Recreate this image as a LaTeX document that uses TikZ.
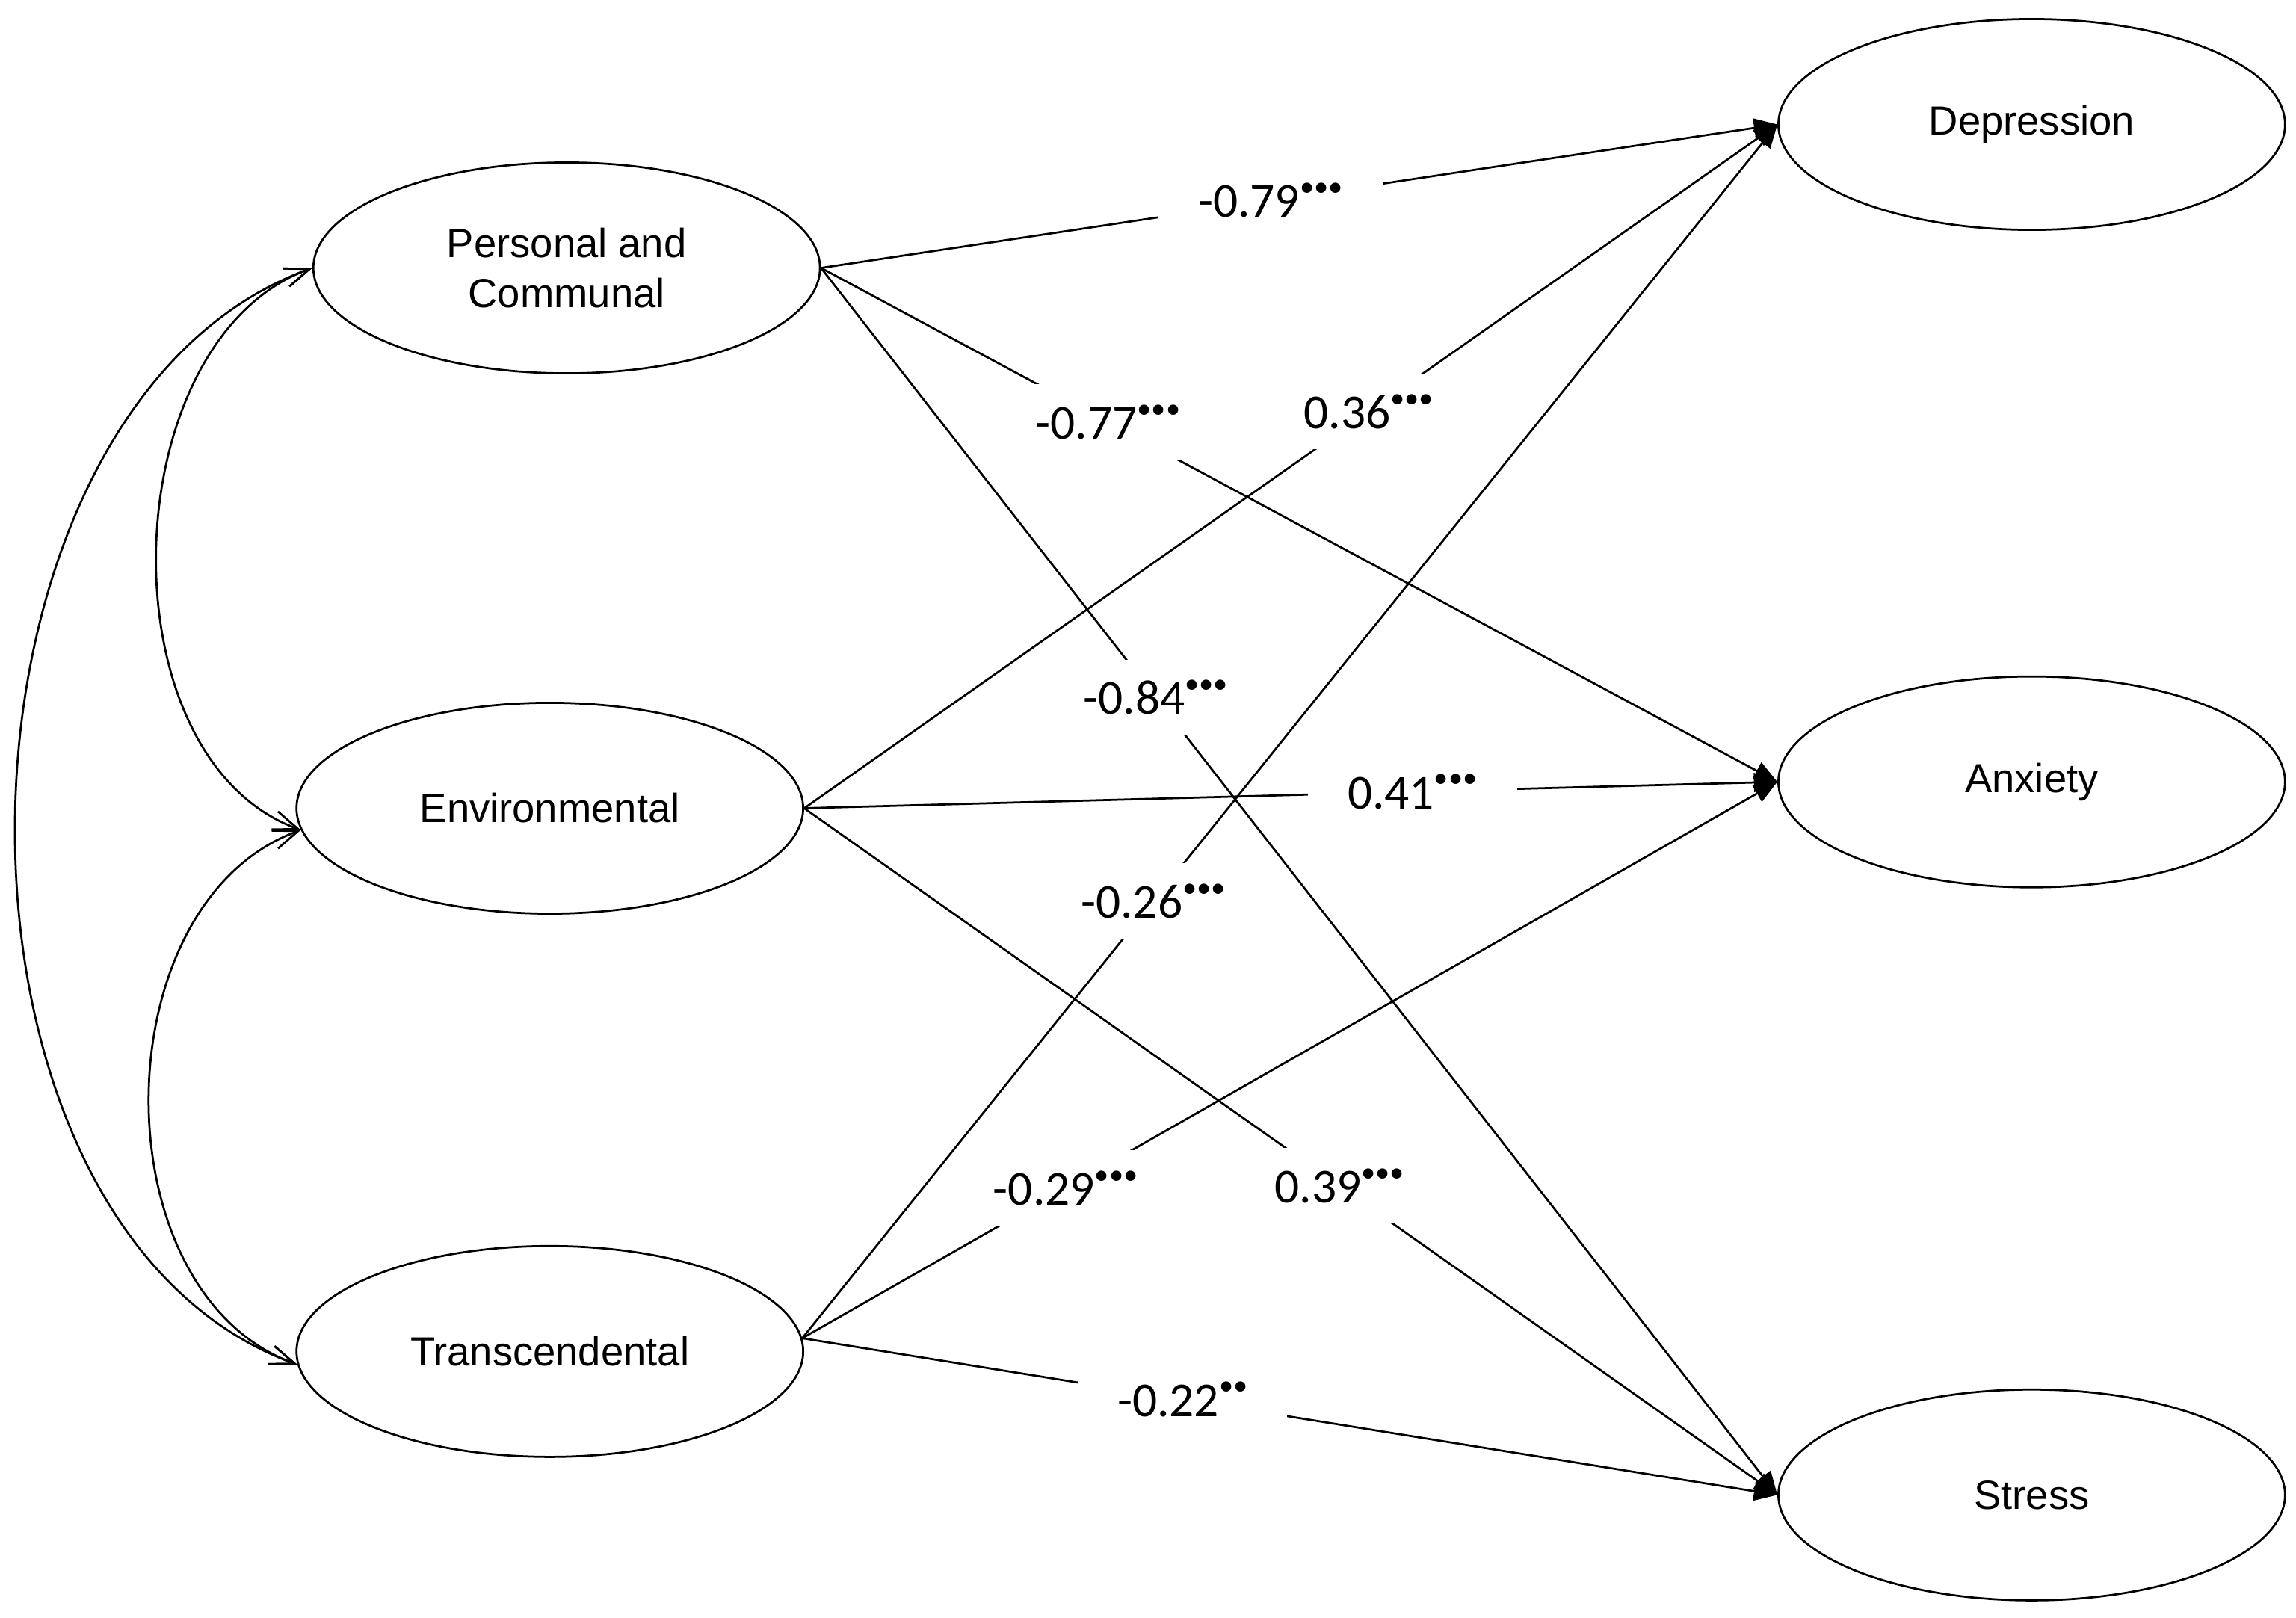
\documentclass[tikz,border=0pt]{standalone}
\usepackage{fontspec}
\setmainfont{Liberation Sans}
\newfontfamily\coeffont{Carlito}
\usepackage{tikz}
\usetikzlibrary{arrows.meta,shapes.geometric}
\newcommand{\stars}{\raisebox{0.9ex}{\fontsize{5.6}{6}\selectfont •••}}
\newcommand{\twostars}{\raisebox{0.9ex}{\fontsize{5.6}{6}\selectfont ••}}

\begin{document}
\begin{tikzpicture}[
    factor/.style={draw, ellipse, minimum width=3.46cm, minimum height=1.44cm,
      inner sep=0pt, align=center, font=\fontsize{7.9}{9.6}\selectfont},
    reg/.style={-{Triangle[length=1.6mm,width=1.3mm]}},
    cov/.style={{Straight Barb[length=1.7mm,width=1.3mm]}-{Straight Barb[length=1.7mm,width=1.3mm]}},
    coef/.style={fill=white, inner xsep=0.27cm, inner ysep=0.14cm,
      font=\coeffont\fontsize{9.5}{11}\selectfont}
  ]
  \useasboundingbox (0,0) rectangle (15.68,11.05);

  % predictors
  \node[factor] (pc) at (3.87, 9.22) {Personal and\\Communal};
  \node[factor] (env) at (3.755, 5.53) {Environmental};
  \node[factor] (tr) at (3.755, 1.82) {Transcendental};

  % outcomes
  \node[factor] (dep) at (13.875, 10.20) {Depression};
  \node[factor] (anx) at (13.875, 5.71) {Anxiety};
  \node[factor] (str) at (13.875, 0.84) {Stress};

  % covariances
  \draw[cov] (pc.west) .. controls +(200:1.45) and +(160:1.45) .. (env.185);
  \draw[cov] (env.185) .. controls +(200:1.45) and +(160:1.45) .. (tr.183);
  \draw[cov] (pc.west) .. controls +(200:2.8) and +(160:2.8) .. (tr.183);

  % paths
  \draw[reg] (pc.east) -- node[coef, pos=0.47] {-0.79\stars} (dep.west);
  \draw[reg] (pc.east) -- node[coef, pos=0.30] {-0.77\stars} (anx.west);
  \draw[reg] (pc.east) -- node[coef, pos=0.35] {-0.84\stars} (str.west);

  \draw[reg] (env.east) -- node[coef, pos=0.58] {0.36\stars} (dep.west);
  \draw[reg] (env.east) -- node[coef, pos=0.625] {0.41\stars} (anx.west);
  \draw[reg] (env.east) -- node[coef, pos=0.55] {0.39\stars} (str.west);

  \draw[reg] (tr.3) -- node[coef, pos=0.27] {-0.29\stars} (anx.west);
  \draw[reg] (tr.3) -- node[coef, pos=0.39] {-0.22\twostars} (str.west);
  \draw[reg] (tr.3) -- node[coef, pos=0.36] {-0.26\stars} (dep.west);
\end{tikzpicture}
\end{document}
